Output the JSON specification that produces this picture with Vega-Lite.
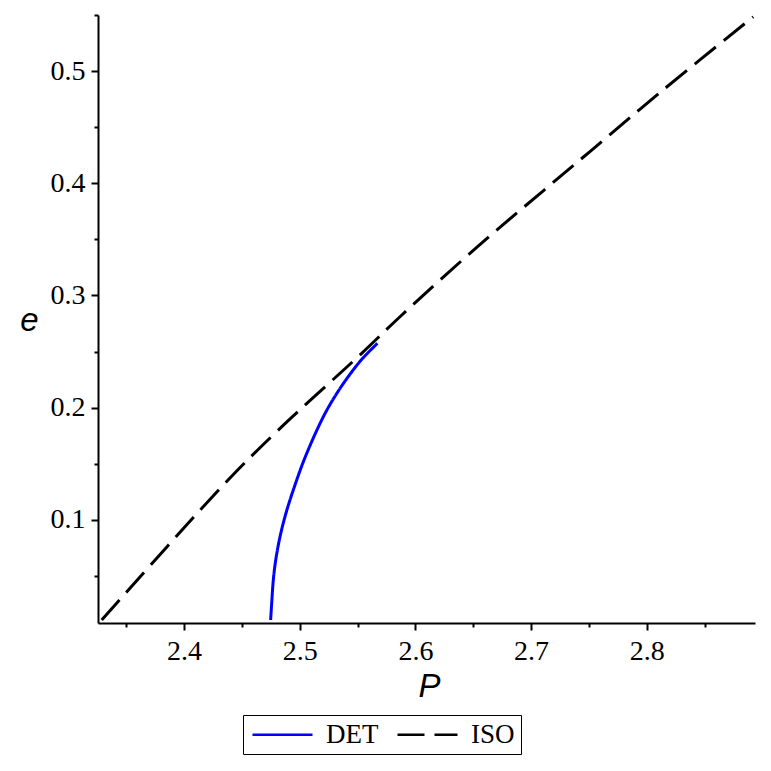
{
  "$schema": "https://vega.github.io/schema/vega-lite/v6.json",
  "width": 657,
  "height": 608,
  "autosize": "none",
  "padding": {"left": 98, "top": 15, "right": 16, "bottom": 148},
  "background": "white",
  "config": {"view": {"stroke": null}},
  "data": {
    "values": [
      {"curve": "ISO", "P": 2.3289, "e": 0.0107},
      {"curve": "ISO", "P": 2.4340, "e": 0.1310},
      {"curve": "ISO", "P": 2.4815, "e": 0.1800},
      {"curve": "ISO", "P": 2.5536, "e": 0.2484},
      {"curve": "ISO", "P": 2.5867, "e": 0.2810},
      {"curve": "ISO", "P": 2.6530, "e": 0.3429},
      {"curve": "ISO", "P": 2.7105, "e": 0.3933},
      {"curve": "ISO", "P": 2.7524, "e": 0.4296},
      {"curve": "ISO", "P": 2.8129, "e": 0.4822},
      {"curve": "ISO", "P": 2.8920, "e": 0.5484},
      {"curve": "DET", "P": 2.4749, "e": 0.0107},
      {"curve": "DET", "P": 2.4758, "e": 0.0256},
      {"curve": "DET", "P": 2.4772, "e": 0.0463},
      {"curve": "DET", "P": 2.4793, "e": 0.0642},
      {"curve": "DET", "P": 2.4830, "e": 0.0849},
      {"curve": "DET", "P": 2.4873, "e": 0.1028},
      {"curve": "DET", "P": 2.4916, "e": 0.1176},
      {"curve": "DET", "P": 2.5005, "e": 0.1444},
      {"curve": "DET", "P": 2.5049, "e": 0.1562},
      {"curve": "DET", "P": 2.5136, "e": 0.1771},
      {"curve": "DET", "P": 2.5227, "e": 0.1963},
      {"curve": "DET", "P": 2.5321, "e": 0.2127},
      {"curve": "DET", "P": 2.5430, "e": 0.2291},
      {"curve": "DET", "P": 2.5544, "e": 0.2439},
      {"curve": "DET", "P": 2.5672, "e": 0.2573}
    ]
  },
  "mark": {"type": "line", "strokeWidth": 3, "interpolate": "catmull-rom", "clip": true},
  "encoding": {
    "x": {
      "field": "P", "type": "quantitative",
      "scale": {"domain": [2.3257, 2.8935], "nice": false, "zero": false},
      "axis": {
        "values": [2.35, 2.4, 2.45, 2.5, 2.55, 2.6, 2.65, 2.7, 2.75, 2.8, 2.85],
        "labelExpr": "abs(datum.value*10 - round(datum.value*10)) < 0.001 ? format(datum.value, '.1f') : ''",
        "tickSize": {"condition": {"test": "abs(datum.value*10 - round(datum.value*10)) < 0.001", "value": 7}, "value": 4},
        "grid": false,
        "domainColor": "black", "domainWidth": 2,
        "tickColor": "black", "tickWidth": 2,
        "labelFont": "Liberation Serif", "labelFontSize": 28, "labelColor": "black", "labelPadding": 7,
        "labelOverlap": false, "labelFlush": false, "labelBound": false,
        "title": "P", "titleFont": "Liberation Sans", "titleFontStyle": "italic", "titleFontSize": 33,
        "titleFontWeight": "normal", "titleColor": "black",
        "titleX": 331, "titleY": 63, "titleAlign": "center", "titleBaseline": "middle"
      }
    },
    "y": {
      "field": "e", "type": "quantitative",
      "scale": {"domain": [0.008, 0.55], "nice": false, "zero": false},
      "axis": {
        "values": [0.05, 0.1, 0.15, 0.2, 0.25, 0.3, 0.35, 0.4, 0.45, 0.5, 0.55],
        "labelExpr": "abs(datum.value*10 - round(datum.value*10)) < 0.001 ? format(datum.value, '.1f') : ''",
        "tickSize": {"condition": {"test": "abs(datum.value*10 - round(datum.value*10)) < 0.001", "value": 7}, "value": 4},
        "grid": false,
        "domainColor": "black", "domainWidth": 2,
        "tickColor": "black", "tickWidth": 2,
        "labelFont": "Liberation Serif", "labelFontSize": 28, "labelColor": "black", "labelPadding": 6,
        "labelOverlap": false, "labelFlush": false, "labelBound": false,
        "title": "e", "titleFont": "Liberation Sans", "titleFontStyle": "italic", "titleFontSize": 33,
        "titleFontWeight": "normal", "titleColor": "black", "titleAngle": 0,
        "titleX": -69, "titleY": 305, "titleAlign": "center", "titleBaseline": "middle"
      }
    },
    "color": {
      "field": "curve", "type": "nominal",
      "scale": {"domain": ["DET", "ISO"], "range": ["#0000ff", "#000000"]},
      "legend": {
        "orient": "none", "legendX": 145, "legendY": 700, "direction": "horizontal", "title": null,
        "strokeColor": "black", "fillColor": "white", "padding": 6,
        "symbolType": "M-1,0H5", "symbolSize": 400, "symbolStrokeWidth": 2.4,
        "labelFont": "Liberation Serif", "labelFontSize": 27, "labelColor": "black",
        "labelOffset": 50, "columnPadding": 13
      }
    },
    "strokeDash": {
      "field": "curve", "type": "nominal",
      "scale": {"domain": ["DET", "ISO"], "range": [[1, 0], [27, 10]]},
      "legend": {
        "orient": "none", "legendX": 145, "legendY": 700, "direction": "horizontal", "title": null,
        "strokeColor": "black", "fillColor": "white", "padding": 6,
        "symbolType": "M-1,0H5", "symbolSize": 400, "symbolStrokeWidth": 2.4,
        "labelFont": "Liberation Serif", "labelFontSize": 27, "labelColor": "black",
        "labelOffset": 50, "columnPadding": 13
      }
    }
  }
}
